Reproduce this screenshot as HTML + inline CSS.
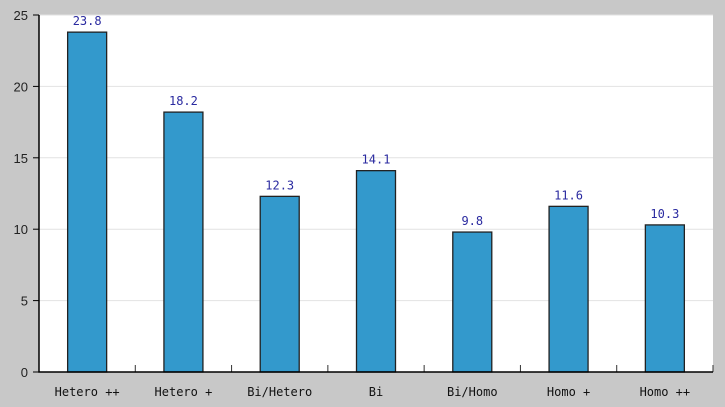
<!DOCTYPE html>
<html><head><meta charset="utf-8"><style>
body{margin:0;background:#c8c8c8;}
svg{display:block;font-family:"DejaVu Sans Mono","Liberation Mono",monospace;}
</style></head><body>
<svg id="chart" width="725" height="407" xmlns="http://www.w3.org/2000/svg">
<rect x="0" y="0" width="725" height="407" fill="#c8c8c8"/>
<rect x="39" y="15" width="674" height="357" fill="#ffffff"/>
<g id="grid"></g><g id="bars"></g><g id="axes"></g>
</svg>
<script>
const categories=["Hetero ++","Hetero +","Bi/Hetero","Bi","Bi/Homo","Homo +","Homo ++"];
const values=[23.8,18.2,12.3,14.1,9.8,11.6,10.3];
const yTicks=[0,5,10,15,20,25];
const L=39,R=713,T=15,B=372,yMax=25;
const NS="http://www.w3.org/2000/svg";
const y=v=>B-(v/yMax)*(B-T);
const bw=(R-L)/categories.length;
const x=i=>L+bw*(i+0.5);
function mk(tag,attrs,parent,text){const e=document.createElementNS(NS,tag);for(const k in attrs)e.setAttribute(k,attrs[k]);if(text!==undefined)e.textContent=text;document.getElementById(parent).appendChild(e);return e;}
yTicks.forEach(t=>{
  if(t>0){const g=mk('line',{x1:L,x2:R,y1:y(t),y2:y(t),stroke:'#e2e2e2','stroke-width':1},'grid');
  
  }
  const tk=mk('line',{x1:L-6,x2:L,y1:y(t),y2:y(t),stroke:'#000','stroke-width':1},'axes');
  
  
  const lb=mk('text',{x:L-11,y:y(t)+5,'text-anchor':'end','font-size':13,fill:'#222','font-family':'Liberation Sans, sans-serif'},'axes',t);
  
  
});
values.forEach((v,i)=>{
  const r=mk('rect',{x:x(i)-19.5,y:y(v),width:39,height:B-y(v),fill:'#3399cc',stroke:'#222','stroke-width':1.3},'bars');
  
  
  const t=mk('text',{x:x(i),y:y(v)-7,'text-anchor':'middle','font-size':12,fill:'#2a2aa0'},'bars',v.toFixed(1));
  
  
  const c=mk('text',{x:x(i),y:396,'text-anchor':'middle','font-size':12,fill:'#111'},'axes',categories[i]);
  
  
  const tk=mk('line',{x1:L+bw*(i+1),x2:L+bw*(i+1),y1:B-7,y2:B,stroke:'#333','stroke-width':1},'axes');
  
  
});
const ax=mk('path',{d:`M${L},${T} V${B} H${R}`,fill:'none',stroke:'#000','stroke-width':1.5},'axes');


</script>
</body></html>
